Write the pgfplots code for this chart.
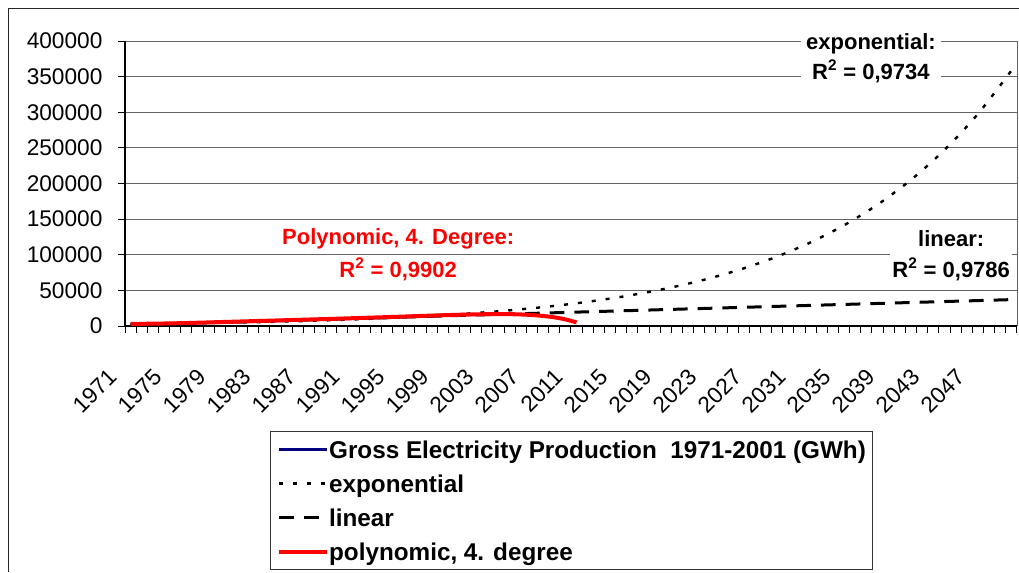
\documentclass[border=0pt]{standalone}
\usepackage{fontspec}
\setmainfont{Liberation Sans}
\usepackage{pgfplots}
\pgfplotsset{compat=1.18}
\definecolor{navy}{RGB}{0,0,128}
\definecolor{gridc}{RGB}{100,100,100}
\begin{document}
\begin{tikzpicture}
\useasboundingbox (0pt,0pt) rectangle (764.25pt,-429pt);
\draw[black!85, line width=0.75pt] (6.2pt,-429pt) -- (6.2pt,-6.2pt) -- (764.25pt,-6.2pt);
\begin{axis}[
  at={(93.75pt,-244.5pt)}, anchor=south west,
  scale only axis, width=669pt, height=213.75pt,
  xmin=1970.5, xmax=2050.5, ymin=0, ymax=400000,
  clip=false, scaled y ticks=false, scaled x ticks=false,
  axis x line*=bottom, axis y line*=left,
  axis line style={black, line width=0.9pt, -},
  tick align=outside, major tick length=5.25pt,
  tick style={black, line width=0.75pt},
  xtick={1970.5,1971.5,...,2050.5}, xticklabels={,,},
  extra x ticks={1971,1975,1979,1983,1987,1991,1995,1999,2003,2007,2011,2015,2019,2023,2027,2031,2035,2039,2043,2047},
  extra x tick labels={1971,1975,1979,1983,1987,1991,1995,1999,2003,2007,2011,2015,2019,2023,2027,2031,2035,2039,2043,2047},
  extra x tick style={tick style={draw=none}, grid=none,
    xticklabel style={xshift=-13pt, yshift=-30pt, rotate=45, anchor=east, inner sep=0pt,
      font=\fontsize{17}{20}\selectfont}},
  ytick={0,50000,100000,150000,200000,250000,300000,350000,400000},
  yticklabels={0,50000,100000,150000,200000,250000,300000,350000,400000},
  yticklabel style={font=\fontsize{17}{20}\selectfont, anchor=east, inner sep=0pt, xshift=-11.5pt},
  ymajorgrids, grid style={gridc, line width=0.75pt},
  legend style={at={(0,0)}, anchor=north west, xshift=108.75pt, yshift=-78.75pt,
    draw=black!80, line width=0.75pt, font=\fontsize{18.2}{20}\selectfont\bfseries,
    inner xsep=5pt, inner ysep=4.5pt, row sep=7.5pt,
    nodes={text height=16pt, text depth=2pt, inner sep=0pt},
    /tikz/every even column/.append style={column sep=5pt}},
  legend cell align=left,
  legend image code/.code={\draw[#1] (0pt,0pt) -- (36pt,0pt);},
]
\addplot[navy, line width=2.25pt] coordinates {
(1971,2900)(1972,3100)(1973,3300)(1974,3400)(1975,3700)(1976,4000)(1977,4500)(1978,4900)(1979,5300)(1980,5600)
(1981,6000)(1982,6300)(1983,6800)(1984,7300)(1985,7800)(1986,8300)(1987,8900)(1988,9300)(1989,9800)(1990,10300)
(1991,10600)(1992,11000)(1993,11500)(1994,12100)(1995,12700)(1996,13400)(1997,14100)(1998,14700)(1999,15300)(2000,15900)(2001,16300)};
\addlegendentry{Gross Electricity Production\ \ 1971-2001 (GWh)}
\addplot[black, line width=1.8pt, line cap=butt, dash pattern=on 3pt off 7.5pt, smooth] coordinates {
(1971,2680)(1975,3430)(1978,4130)(1981,4980)(1984,5990)(1987,7220)(1990,8700)(1993,10470)(1996,12610)(1999,15190)
(2002,18290)(2005,22030)(2008,26540)(2011,31960)(2014,38490)(2017,46360)(2020,55840)(2023,67250)(2026,80990)(2029,97550)
(2032,117490)(2035,141500)(2038,170430)(2041,205270)(2044,247220)(2047,297760)(2050,358600)};
\addlegendentry{exponential}
\addplot[black, line width=2.25pt, line cap=butt, dash pattern=on 11pt off 7.5pt] coordinates {
(1971,1500)(2050,37050)};
\addlegendentry{linear}
\addplot[red, line width=3pt, smooth] coordinates {
(1971,2900)(1973,3300)(1975,3800)(1977,4600)(1979,5500)(1981,6400)(1983,7300)(1985,8200)(1987,9100)(1989,10000)
(1991,11000)(1993,12000)(1995,13000)(1997,14100)(1999,15100)(2001,16000)(2003,16600)(2004,16700)(2005,16600)
(2006,16200)(2007,15400)(2008,14100)(2009,12200)(2010,9300)(2011,5000)};
\addlegendentry{polynomic, 4. degree}
\draw[gridc, line width=0.75pt] (rel axis cs:1,0) -- (rel axis cs:1,1);
\node[fill=white, inner xsep=0pt, inner ysep=2pt, minimum width=105pt, align=center,
  font=\fontsize{16.5}{22.5}\selectfont\bfseries] at (axis cs:2037.4,376100) {exponential:\\R\textsuperscript{2} = 0,9734};
\node[fill=white, inner xsep=0pt, inner ysep=2pt, minimum width=91.5pt, align=center,
  font=\fontsize{16.5}{23.25}\selectfont\bfseries] at (axis cs:2044.6,98950) {linear:\\R\textsuperscript{2} = 0,9786};
\node[red, inner sep=0pt, align=center,
  font=\fontsize{16.5}{24.75}\selectfont\bfseries] at (axis cs:1995,100350) {Polynomic, 4. Degree:\\R\textsuperscript{2} = 0,9902};
\end{axis}
\end{tikzpicture}
\end{document}
